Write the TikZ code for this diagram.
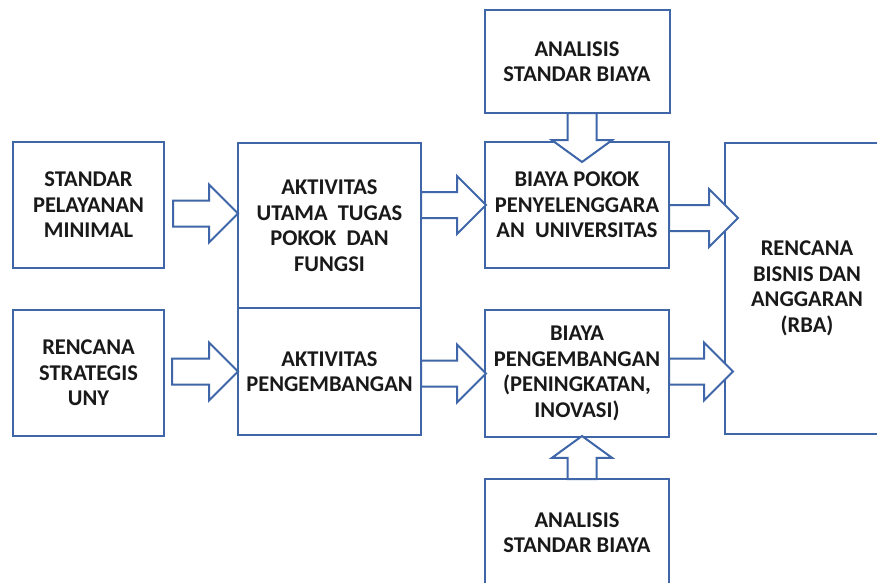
\documentclass[tikz,border=0pt]{standalone}
\usepackage{fontspec}
\setmainfont{Carlito}
\usepackage{tikz}
\usetikzlibrary{shapes,arrows}
\usetikzlibrary{positioning}
\definecolor{boxblue}{RGB}{62,102,168}
\tikzstyle{box} = [draw=boxblue, line width=2pt, fill=white,
rectangle, align=center, inner sep=2pt, outer sep=0pt, text=black!90,
font=\fontsize{22.5}{25.5}\selectfont\bfseries]
\tikzstyle{fatarrow} = [draw=boxblue, line width=2pt, fill=white,
single arrow, single arrow head extend=16pt, inner xsep=0pt,
inner ysep=12pt, outer sep=0pt, minimum width=1pt]
\tikzstyle{fatarrowv} = [fatarrow, inner ysep=13.5pt,
single arrow head extend=15.5pt, single arrow tip angle=108]

\begin{document}
\begin{tikzpicture}[x=1pt, y=1pt]
    \useasboundingbox (0,0) rectangle (877,-582);
    \node [box, minimum width=151pt, minimum height=126pt] (SPM) at (88.5,-205) {STANDAR\\PELAYANAN\\MINIMAL};
    \node [box, minimum width=151pt, minimum height=126pt, below=42pt of SPM] (RSU) {RENCANA\\STRATEGIS\\UNY};
    \node [box, minimum width=183pt, minimum height=165pt, anchor=north west] (AU) at (238,-143) {AKTIVITAS\\UTAMA\ \ TUGAS\\POKOK\ \ DAN\\FUNGSI};
    \node [box, minimum width=183pt, minimum height=127pt, below=0pt of AU] (AP) {AKTIVITAS\\PENGEMBANGAN};
    \node [box, minimum width=184pt, minimum height=126pt] (BP) at (577,-205) {BIAYA POKOK\\PENYELENGGARA\\AN\ \ UNIVERSITAS};
    \node [box, minimum width=184pt, minimum height=127pt, below=42pt of BP] (BPG) {BIAYA\\PENGEMBANGAN\\(PENINGKATAN,\\INOVASI)};
    \node [box, minimum width=185pt, minimum height=103pt, above=29pt of BP] (ASB1) {ANALISIS\\STANDAR BIAYA};
    \node [box, minimum width=184pt, minimum height=107pt, below=42pt of BPG] (ASB2) {ANALISIS\\STANDAR BIAYA};
    \node [box, minimum width=164pt, minimum height=291pt, anchor=north west] (RBA) at (725,-143) {RENCANA\\BISNIS DAN\\ANGGARAN\\(RBA)};
    %% Arrows
    \node [fatarrow, minimum height=65pt, anchor=tip] (a1) at ([yshift=12pt]AU.west) {};
    \node [fatarrow, minimum height=66pt, anchor=tip] (a2) at (AP.west) {};
    \node [fatarrow, minimum height=65pt, anchor=tail] (a3) at (AU.east |- BP.west) {};
    \node [fatarrow, minimum height=65pt, anchor=tail] (a4) at (AP.east |- BPG.west) {};
    \node [fatarrow, minimum height=69pt, anchor=tail] (a5) at ([yshift=-13pt]BP.east) {};
    \node [fatarrow, minimum height=64pt, anchor=tail] (a6) at ([yshift=2pt]BPG.east) {};
    \node [fatarrowv, minimum height=49pt, rotate=-90, anchor=tail] (a7) at ([xshift=5pt]ASB1.south) {};
    \node [fatarrowv, minimum height=43pt, rotate=90, anchor=tail] (a8) at ([xshift=5pt]ASB2.north) {};
\end{tikzpicture}
\end{document}
